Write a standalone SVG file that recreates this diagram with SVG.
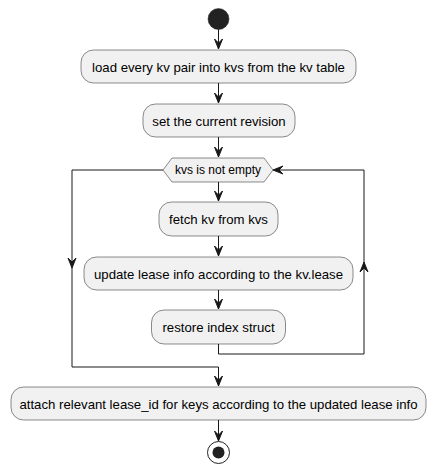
<svg xmlns="http://www.w3.org/2000/svg" xmlns:xlink="http://www.w3.org/1999/xlink" width="437" height="473" viewBox="0 0 437 473">
<style>
.box{fill:#F1F1F1;stroke:#181818;stroke-width:0.5}
.t{font-family:"Liberation Sans",Arial,sans-serif;font-size:13.2px;fill:#000000;text-anchor:middle}
.td{font-family:"Liberation Sans",Arial,sans-serif;font-size:12px;fill:#000000;text-anchor:middle}
.ln{fill:none;stroke:#181818;stroke-width:1}
.ah{fill:#181818;stroke:#181818;stroke-width:1}
</style>
<defs>
<path id="down" d="M-4,-10 L0,0 L4,-10 L0,-6 Z"/>
</defs>
<rect width="437" height="473" fill="#FFFFFF"/>
<g id="connectors">
<line class="ln" x1="218.5" y1="29" x2="218.5" y2="49"/>
<use href="#down" class="ah" x="218.5" y="49"/>
<line class="ln" x1="218.5" y1="83" x2="218.5" y2="103"/>
<use href="#down" class="ah" x="218.5" y="103"/>
<line class="ln" x1="218.5" y1="137" x2="218.5" y2="157"/>
<use href="#down" class="ah" x="218.5" y="157"/>
<line class="ln" x1="218.5" y1="182" x2="218.5" y2="201"/>
<use href="#down" class="ah" x="218.5" y="201"/>
<line class="ln" x1="218.5" y1="236" x2="218.5" y2="256"/>
<use href="#down" class="ah" x="218.5" y="256"/>
<line class="ln" x1="218.5" y1="290" x2="218.5" y2="309"/>
<use href="#down" class="ah" x="218.5" y="309"/>
<polyline class="ln" points="218.5,344 218.5,354 364,354 364,170 274,170"/>
<path class="ah" d="M364,262 L360,272 L364,268 L368,272 Z"/>
<path class="ah" d="M273,170 L283,166 L279,170 L283,174 Z"/>
<polyline class="ln" points="163,170 72,170 72,367 218.5,367 218.5,386"/>
<use href="#down" class="ah" x="72" y="268"/>
<use href="#down" class="ah" x="218.5" y="386"/>
<line class="ln" x1="218.5" y1="420" x2="218.5" y2="441"/>
<use href="#down" class="ah" x="218.5" y="441"/>
</g>
<g id="start">
<circle cx="218.5" cy="19" r="10.5" fill="#222222" stroke="#222222" stroke-width="0.5"/>
</g>
<g id="load">
<rect class="box" x="81" y="50" width="275" height="33" rx="12.5" ry="12.5"/>
<text class="t" x="218.5" y="71.5">load every kv pair into kvs from the kv table</text>
</g>
<g id="setrev">
<rect class="box" x="143" y="104" width="152" height="33" rx="12.5" ry="12.5"/>
<text class="t" x="219" y="125.5">set the current revision</text>
</g>
<g id="loop">
<polygon class="box" points="163,170 172,158 264,158 273,170 264,182 172,182"/>
<text class="td" x="218" y="174">kvs is not empty</text>
</g>
<g id="fetch">
<rect class="box" x="159" y="202" width="119" height="34" rx="12.5" ry="12.5"/>
<text class="t" x="218.5" y="223.5">fetch kv from kvs</text>
</g>
<g id="update">
<rect class="box" x="84" y="257" width="269" height="33" rx="12.5" ry="12.5"/>
<text class="t" x="218.5" y="278.5">update lease info according to the kv.lease</text>
</g>
<g id="restore">
<rect class="box" x="151.5" y="310" width="134" height="34" rx="12.5" ry="12.5"/>
<text class="t" x="218.5" y="331.5">restore index struct</text>
</g>
<g id="attach">
<rect class="box" x="11" y="387" width="415" height="33" rx="12.5" ry="12.5"/>
<text class="t" x="218.5" y="408.5">attach relevant lease_id for keys according to the updated lease info</text>
</g>
<g id="end">
<circle cx="218.5" cy="452.5" r="11" fill="none" stroke="#222222" stroke-width="1"/>
<circle cx="218.5" cy="452.5" r="6" fill="#222222"/>
</g>
</svg>
